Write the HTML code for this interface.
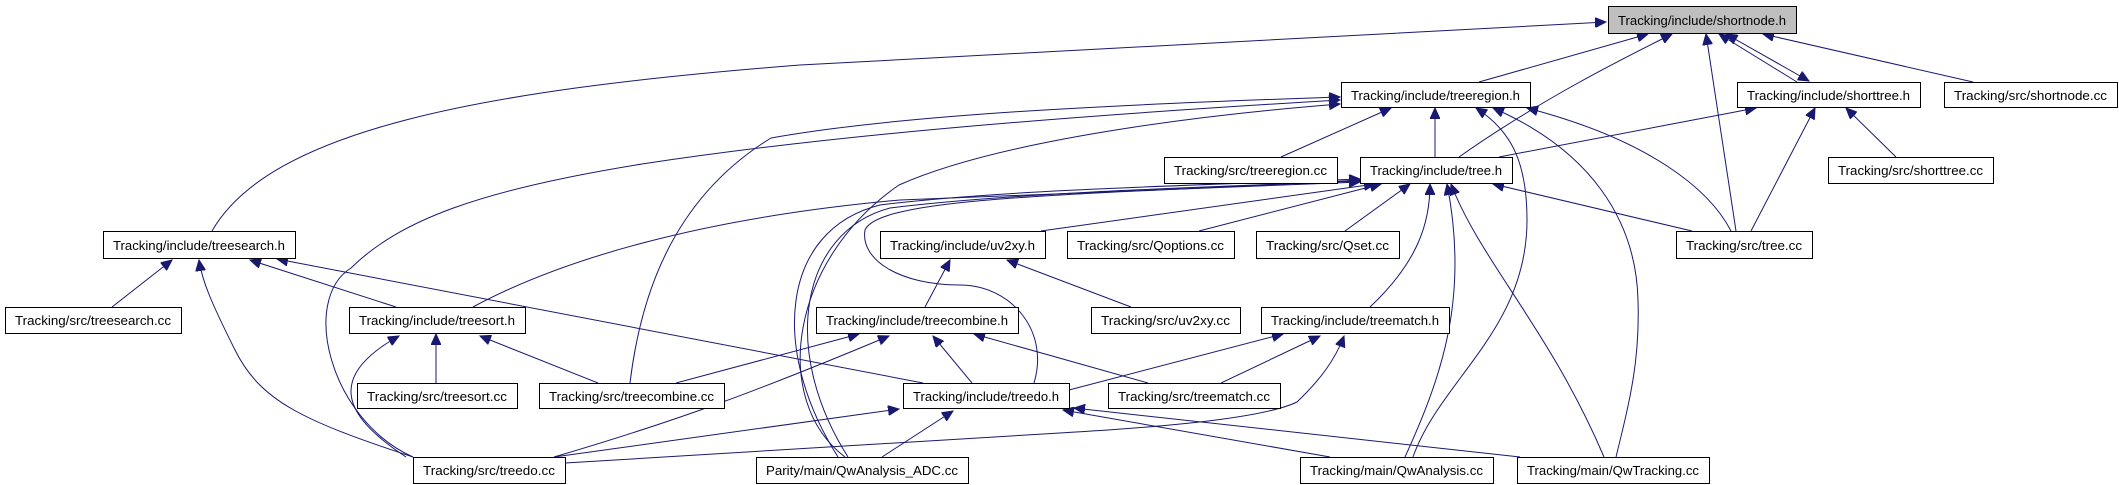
<!DOCTYPE html>
<html><head><meta charset="utf-8"><style>
html,body{margin:0;padding:0;background:#fff}
svg{display:block}
text{font-family:"Liberation Sans",sans-serif;font-size:13px;fill:#000}
</style></head><body>
<svg width="2119" height="485" viewBox="0 0 2119 485" xmlns="http://www.w3.org/2000/svg">
<defs>
<marker id="a" markerUnits="userSpaceOnUse" markerWidth="12" markerHeight="10" refX="11" refY="5" orient="auto">
<path d="M0,0 L11,5 L0,10 Z" fill="#191970" stroke="#191970"/>
</marker>
<marker id="s" markerUnits="userSpaceOnUse" markerWidth="12" markerHeight="10" refX="0" refY="5" orient="auto">
<path d="M11,0 L0,5 L11,10 Z" fill="#191970" stroke="#191970"/>
</marker>
</defs>
<g fill="none" stroke="#191970" stroke-width="1" marker-end="url(#a)">
<path d="M212,231 C270,130 480,90 800,65 L1606,22"/>
<path d="M1479,82 L1648,34"/>
<path d="M1459,157 C1540,100 1620,60 1672,34"/>
<path d="M1736,231 L1706,34"/>
<path d="M1797,82 L1719,34"/>
<path d="M1726,34 L1809,81" marker-start="url(#s)"/>
<path d="M1973,82 L1763,34"/>
<path d="M1281,157 L1391,108"/>
<path d="M1435,157 L1435,108"/>
<path d="M1731,231 C1710,190 1650,140 1527,108"/>
<path d="M1413,457 C1440,380 1527,330 1527,220 C1527,160 1510,130 1476,108"/>
<path d="M1616,457 C1630,400 1640,360 1638,300 C1636,220 1590,150 1493,108"/>
<path d="M413,457 C330,420 300,300 351,268 C400,220 480,190 642,164 C800,140 1000,120 1340,100"/>
<path d="M630,383 C640,300 670,200 771,138 C900,115 1100,105 1340,97"/>
<path d="M845,457 C770,400 790,260 899,185 C1000,140 1200,115 1340,104"/>
<path d="M1499,157 L1756,108"/>
<path d="M1896,157 L1846,108"/>
<path d="M1751,231 L1815,108"/>
<path d="M1692,231 L1493,184"/>
<path d="M1405,457 C1440,380 1470,300 1447,184"/>
<path d="M1604,457 C1550,330 1480,260 1451,184"/>
<path d="M1370,307 C1420,260 1430,220 1430,184"/>
<path d="M1345,231 L1410,184"/>
<path d="M1199,231 L1381,184"/>
<path d="M1041,231 L1375,184"/>
<path d="M473,307 C560,260 700,218 900,200 L1360,182"/>
<path d="M1034,383 C1050,330 1010,285 960,285 C900,285 860,260 865,230 C880,195 1100,195 1360,180"/>
<path d="M838,457 C770,350 780,230 880,205 C1000,190 1200,185 1360,179"/>
<path d="M848,457 C780,350 800,232 890,208 C1010,193 1200,187 1360,181"/>
<path d="M396,307 L250,260"/>
<path d="M112,307 L172,260"/>
<path d="M413,457 C300,420 260,400 235,350 C210,300 202,280 199,260"/>
<path d="M923,383 L277,259"/>
<path d="M436,383 L436,334"/>
<path d="M598,383 L480,336"/>
<path d="M406,457 C350,420 320,380 399,336"/>
<path d="M676,383 L859,334"/>
<path d="M554,457 C680,420 760,390 889,336"/>
<path d="M972,383 L933,336"/>
<path d="M1148,383 L974,334"/>
<path d="M925,307 L950,260"/>
<path d="M1131,307 L1007,260"/>
<path d="M1069,390 L1283,334"/>
<path d="M1221,383 L1320,336"/>
<path d="M565,463 L1060,433 C1200,425 1270,415 1297,402 C1320,380 1335,360 1344,336"/>
<path d="M554,457 L899,409"/>
<path d="M882,457 L953,411"/>
<path d="M1330,457 L1063,410"/>
<path d="M1520,457 L1074,408"/>
</g>
<g stroke="#000" stroke-width="1">
<rect x="1608.5" y="6.5" width="188" height="27" fill="#bfbfbf"/>
<rect x="1341.5" y="82.5" width="189" height="25" fill="#fff"/>
<rect x="1737.5" y="82.5" width="183" height="25" fill="#fff"/>
<rect x="1944.5" y="82.5" width="173" height="25" fill="#fff"/>
<rect x="1164.5" y="157.5" width="173" height="26" fill="#fff"/>
<rect x="1360.5" y="157.5" width="152" height="26" fill="#fff"/>
<rect x="1828.5" y="157.5" width="165" height="26" fill="#fff"/>
<rect x="103.5" y="231.5" width="192" height="27" fill="#fff"/>
<rect x="880.5" y="231.5" width="165" height="27" fill="#fff"/>
<rect x="1067.5" y="231.5" width="167" height="27" fill="#fff"/>
<rect x="1256.5" y="231.5" width="143" height="27" fill="#fff"/>
<rect x="1676.5" y="231.5" width="136" height="27" fill="#fff"/>
<rect x="5.5" y="307.5" width="176" height="26" fill="#fff"/>
<rect x="349.5" y="307.5" width="176" height="26" fill="#fff"/>
<rect x="816.5" y="307.5" width="202" height="26" fill="#fff"/>
<rect x="1091.5" y="307.5" width="149" height="26" fill="#fff"/>
<rect x="1261.5" y="307.5" width="188" height="26" fill="#fff"/>
<rect x="357.5" y="383.5" width="160" height="25" fill="#fff"/>
<rect x="539.5" y="383.5" width="185" height="25" fill="#fff"/>
<rect x="903.5" y="383.5" width="166" height="25" fill="#fff"/>
<rect x="1108.5" y="383.5" width="172" height="25" fill="#fff"/>
<rect x="413.5" y="457.5" width="152" height="26" fill="#fff"/>
<rect x="756.5" y="457.5" width="212" height="26" fill="#fff"/>
<rect x="1300.5" y="457.5" width="193" height="26" fill="#fff"/>
<rect x="1517.5" y="457.5" width="192" height="26" fill="#fff"/>
</g>
<g>
<text x="1618" y="25" textLength="168" lengthAdjust="spacingAndGlyphs">Tracking/include/shortnode.h</text>
<text x="1351" y="100" textLength="169" lengthAdjust="spacingAndGlyphs">Tracking/include/treeregion.h</text>
<text x="1747" y="100" textLength="163" lengthAdjust="spacingAndGlyphs">Tracking/include/shorttree.h</text>
<text x="1954" y="100" textLength="153" lengthAdjust="spacingAndGlyphs">Tracking/src/shortnode.cc</text>
<text x="1174" y="175" textLength="153" lengthAdjust="spacingAndGlyphs">Tracking/src/treeregion.cc</text>
<text x="1370" y="175" textLength="132" lengthAdjust="spacingAndGlyphs">Tracking/include/tree.h</text>
<text x="1838" y="175" textLength="145" lengthAdjust="spacingAndGlyphs">Tracking/src/shorttree.cc</text>
<text x="113" y="250" textLength="172" lengthAdjust="spacingAndGlyphs">Tracking/include/treesearch.h</text>
<text x="890" y="250" textLength="145" lengthAdjust="spacingAndGlyphs">Tracking/include/uv2xy.h</text>
<text x="1077" y="250" textLength="147" lengthAdjust="spacingAndGlyphs">Tracking/src/Qoptions.cc</text>
<text x="1266" y="250" textLength="123" lengthAdjust="spacingAndGlyphs">Tracking/src/Qset.cc</text>
<text x="1686" y="250" textLength="116" lengthAdjust="spacingAndGlyphs">Tracking/src/tree.cc</text>
<text x="15" y="325" textLength="156" lengthAdjust="spacingAndGlyphs">Tracking/src/treesearch.cc</text>
<text x="359" y="325" textLength="156" lengthAdjust="spacingAndGlyphs">Tracking/include/treesort.h</text>
<text x="826" y="325" textLength="182" lengthAdjust="spacingAndGlyphs">Tracking/include/treecombine.h</text>
<text x="1101" y="325" textLength="129" lengthAdjust="spacingAndGlyphs">Tracking/src/uv2xy.cc</text>
<text x="1271" y="325" textLength="168" lengthAdjust="spacingAndGlyphs">Tracking/include/treematch.h</text>
<text x="367" y="401" textLength="140" lengthAdjust="spacingAndGlyphs">Tracking/src/treesort.cc</text>
<text x="549" y="401" textLength="165" lengthAdjust="spacingAndGlyphs">Tracking/src/treecombine.cc</text>
<text x="913" y="401" textLength="146" lengthAdjust="spacingAndGlyphs">Tracking/include/treedo.h</text>
<text x="1118" y="401" textLength="152" lengthAdjust="spacingAndGlyphs">Tracking/src/treematch.cc</text>
<text x="423" y="475" textLength="132" lengthAdjust="spacingAndGlyphs">Tracking/src/treedo.cc</text>
<text x="766" y="475" textLength="192" lengthAdjust="spacingAndGlyphs">Parity/main/QwAnalysis_ADC.cc</text>
<text x="1310" y="475" textLength="173" lengthAdjust="spacingAndGlyphs">Tracking/main/QwAnalysis.cc</text>
<text x="1527" y="475" textLength="172" lengthAdjust="spacingAndGlyphs">Tracking/main/QwTracking.cc</text>
</g>
</svg>
</body></html>
